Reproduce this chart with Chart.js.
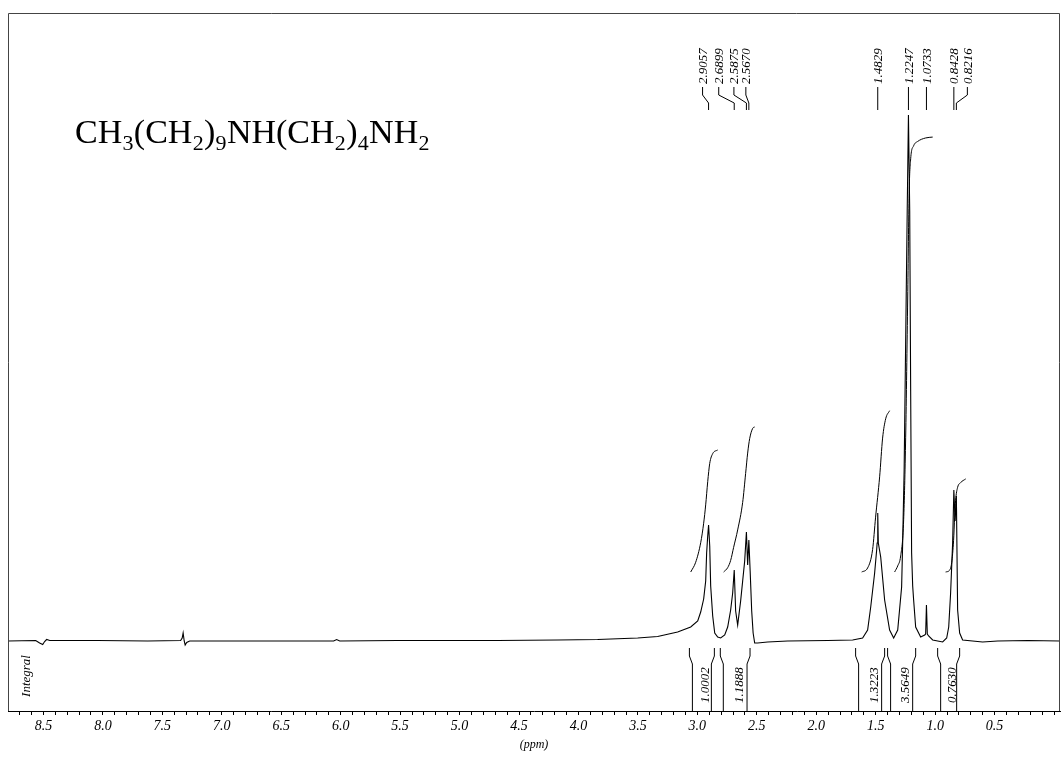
<!DOCTYPE html>
<html>
<head>
<meta charset="utf-8">
<title>1H NMR</title>
<script src="https://cdn.jsdelivr.net/npm/chart.js@4/dist/chart.umd.min.js"></script>
<style>
  html, body { margin: 0; padding: 0; background: #fff; }
  canvas { display: block; }
</style>
</head>
<body>
<canvas id="nmr" width="1061" height="758"></canvas>
<script>
// 1H NMR trace: chemical shift (ppm) and signal intensity (arbitrary units, baseline = 0)
const shiftPpm = [
  8.818, 8.565, 8.532, 8.506, 8.490, 8.473, 8.447, 8.044, 7.623, 7.346,
  7.333, 7.325, 7.316, 7.308, 7.295, 7.270, 6.782, 6.059, 6.034, 6.008,
  5.521, 4.680, 4.175, 3.839, 3.502, 3.334, 3.166, 3.056, 2.997, 2.972,
  2.947, 2.930, 2.922, 2.913, 2.9057, 2.896, 2.888, 2.871, 2.854, 2.829,
  2.804, 2.770, 2.745, 2.720, 2.703, 2.6899, 2.678, 2.661, 2.636, 2.619,
  2.602, 2.5875, 2.577, 2.5670, 2.556, 2.543, 2.531, 2.518, 2.493, 2.409,
  2.241, 1.904, 1.694, 1.610, 1.568, 1.542, 1.509, 1.492, 1.488, 1.4829,
  1.478, 1.458, 1.425, 1.383, 1.349, 1.315, 1.282, 1.273, 1.261, 1.248,
  1.235, 1.2247, 1.214, 1.206, 1.198, 1.189, 1.181, 1.164, 1.122, 1.088,
  1.080, 1.0733, 1.066, 1.055, 1.021, 0.937, 0.903, 0.886, 0.870, 0.853,
  0.8428, 0.832, 0.8216, 0.811, 0.794, 0.769, 0.601, 0.474, 0.222, -0.050
];
const intensity = [
  0, 0.5, -2, -3.5, -0.5, 1.5, 0.5, 0.5, 0, 0.5,
  3, 8, 0, -4, -1.5, 0, 0, 0, 1.5, 0,
  0.5, 0.5, 1, 1.5, 3, 4.5, 9, 14, 20, 29,
  42, 60, 88, 105, 116, 95, 55, 25, 8, 4,
  3, 6, 14, 31, 48, 71, 30, 16, 40, 60,
  80, 109, 76, 101, 70, 30, 8, -2, -2, -1,
  0, 0.5, 1, 3, 11, 34, 68, 91, 98, 128,
  98, 84, 41, 11, 3, 11, 54, 100, 170, 300,
  430, 526, 430, 250, 88, 55, 41, 14, 4, 6,
  7, 36, 7, 5, 1, -1, 3, 14, 48, 98,
  151, 120, 145, 31, 8, 1, -1, 0, 0.5, 0
];

// picked peaks (ppm)
const peakShifts = [2.9057, 2.6899, 2.5875, 2.5670, 1.4829, 1.2247, 1.0733, 0.8428, 0.8216];

// integrated regions: limits (ppm) and relative areas
const integralFrom   = [3.067, 2.807, 1.669, 1.400, 0.979];
const integralTo     = [2.857, 2.557, 1.425, 1.164, 0.794];
const integralValues = [1.0002, 1.1888, 1.3223, 3.5649, 0.7630];

// running-integral traces: shift (ppm) and fraction of the region's area
const int1Ppm  = [3.056, 3.014, 2.972, 2.947, 2.930, 2.913, 2.896, 2.871, 2.829];
const int1Frac = [0, 0.08, 0.24, 0.40, 0.55, 0.74, 0.89, 0.97, 1];
const int2Ppm  = [2.779, 2.745, 2.720, 2.695, 2.661, 2.619, 2.594, 2.577, 2.560, 2.535, 2.518];
const int2Frac = [0, 0.03, 0.08, 0.17, 0.29, 0.48, 0.68, 0.82, 0.92, 0.99, 1];
const int3Ppm  = [1.618, 1.568, 1.526, 1.501, 1.467, 1.442, 1.416, 1.383];
const int3Frac = [0, 0.025, 0.14, 0.34, 0.59, 0.83, 0.95, 1];
const int4Ppm  = [1.341, 1.315, 1.290, 1.265, 1.248, 1.231, 1.219, 1.206, 1.181, 1.147, 1.080, 1.021];
const int4Frac = [0, 0.014, 0.037, 0.12, 0.31, 0.63, 0.87, 0.95, 0.98, 0.99, 0.998, 1];
const int5Ppm  = [0.912, 0.878, 0.861, 0.845, 0.836, 0.828, 0.811, 0.786, 0.743];
const int5Frac = [0, 0.02, 0.10, 0.34, 0.59, 0.77, 0.91, 0.96, 1];

// labelled axis ticks (ppm)
const tickLabels = [8.5, 8.0, 7.5, 7.0, 6.5, 6.0, 5.5, 5.0, 4.5, 4.0, 3.5, 3.0, 2.5, 2.0, 1.5, 1.0, 0.5];

const formulaParts = [
  ['CH', false], ['3', true], ['(CH', false], ['2', true], [')', false], ['9', true],
  ['NH(CH', false], ['2', true], [')', false], ['4', true], ['NH', false], ['2', true]
];

// ---- drawing setup ----
const SERIF = '"Liberation Serif", "Times New Roman", serif';
const INTEGRAL_BASE = 69;   // height of integral traces above the baseline
const INTEGRAL_GAIN = 122;  // trace rise per unit of area
const integralTraces = [
  [int1Ppm, int1Frac], [int2Ppm, int2Frac], [int3Ppm, int3Frac],
  [int4Ppm, int4Frac], [int5Ppm, int5Frac]
];
// horizontal spread of crowded peak labels (px, relative to the peak)
const labelShift = [-6, -15.5, -12.5, -3, 0, 0, 0, 0, 11];

const spectrumData = shiftPpm.map((p, i) => ({ x: p, y: intensity[i] }));
const integralSets = integralTraces.map(([ppm, frac], k) => ({
  data: ppm.map((p, i) => ({ x: p, y: INTEGRAL_BASE + frac[i] * integralValues[k] * INTEGRAL_GAIN })),
  borderColor: '#000', borderWidth: 1, pointRadius: 0,
  cubicInterpolationMode: 'monotone', fill: false
}));

const decorations = {
  id: 'decorations',
  afterDraw(chart) {
    const { ctx, chartArea: ca } = chart;
    const xs = chart.scales.x;
    ctx.save();

    // frame around the plot (top, left, right)
    ctx.strokeStyle = '#444';
    ctx.lineWidth = 1;
    ctx.beginPath();
    ctx.moveTo(ca.left + 0.5, ca.bottom);
    ctx.lineTo(ca.left + 0.5, ca.top + 0.5);
    ctx.lineTo(ca.right - 0.5, ca.top + 0.5);
    ctx.lineTo(ca.right - 0.5, ca.bottom);
    ctx.stroke();

    // molecular formula with subscripts
    ctx.fillStyle = '#000';
    ctx.textBaseline = 'alphabetic';
    ctx.textAlign = 'left';
    let fx = 75;
    formulaParts.forEach(([t, sub]) => {
      ctx.font = sub ? `22px ${SERIF}` : `34px ${SERIF}`;
      const y = sub ? 150 : 143;
      ctx.fillText(t, fx, y);
      fx += ctx.measureText(t).width + 0.3;
    });

    // peak labels with leader lines
    ctx.strokeStyle = '#000';
    ctx.lineWidth = 1;
    ctx.font = `italic 13px ${SERIF}`;
    peakShifts.forEach((p, i) => {
      const px = xs.getPixelForValue(p);
      const lx = px + labelShift[i];
      ctx.beginPath();
      ctx.moveTo(lx, 87);
      ctx.lineTo(lx, 95);
      ctx.lineTo(px, 103);
      ctx.lineTo(px, 110);
      ctx.stroke();
      ctx.save();
      ctx.translate(lx + 1, 84);
      ctx.rotate(-Math.PI / 2);
      ctx.textAlign = 'left';
      ctx.textBaseline = 'middle';
      ctx.fillText(p.toFixed(4), 0, 0);
      ctx.restore();
    });

    // integral region brackets and values
    integralFrom.forEach((a, i) => {
      const xa = xs.getPixelForValue(a);
      const xb = xs.getPixelForValue(integralTo[i]);
      ctx.beginPath();
      ctx.moveTo(xa, 648); ctx.lineTo(xa, 656); ctx.lineTo(xa + 3, 664); ctx.lineTo(xa + 3, ca.bottom);
      ctx.moveTo(xb, 648); ctx.lineTo(xb, 656); ctx.lineTo(xb - 3, 664); ctx.lineTo(xb - 3, ca.bottom);
      ctx.stroke();
      ctx.save();
      ctx.translate((xa + xb) / 2 + 4, 685);
      ctx.rotate(-Math.PI / 2);
      ctx.textAlign = 'center';
      ctx.textBaseline = 'middle';
      ctx.fillText(integralValues[i].toFixed(4), 0, 0);
      ctx.restore();
    });

    // row caption
    ctx.save();
    ctx.translate(27, 676);
    ctx.rotate(-Math.PI / 2);
    ctx.textAlign = 'center';
    ctx.textBaseline = 'middle';
    ctx.fillText('Integral', 0, 0);
    ctx.restore();

    ctx.restore();
  }
};

new Chart(document.getElementById('nmr'), {
  type: 'line',
  data: {
    datasets: [
      { data: spectrumData, borderColor: '#000', borderWidth: 1.1, pointRadius: 0, tension: 0, fill: false },
      ...integralSets
    ]
  },
  options: {
    responsive: false,
    devicePixelRatio: 1,
    animation: false,
    layout: { padding: { left: 8, top: 13, right: 1, bottom: 0 } },
    plugins: { legend: { display: false }, tooltip: { enabled: false } },
    scales: {
      x: {
        type: 'linear',
        reverse: true,
        min: -0.050,
        max: 8.798,
        afterFit(scale) { scale.height = 47; },
        border: { display: true, color: '#000', width: 1 },
        grid: { drawOnChartArea: false, drawTicks: true, tickLength: 4, color: '#000' },
        ticks: {
          stepSize: 0.1,
          includeBounds: false,
          autoSkip: false,
          maxRotation: 0,
          padding: 3,
          color: '#000',
          font: { family: SERIF, size: 14, style: 'italic' },
          callback(v) {
            const hit = tickLabels.find(t => Math.abs(t - v) < 1e-6);
            return hit !== undefined ? hit.toFixed(1) : '';
          }
        },
        title: {
          display: true,
          text: '(ppm)',
          color: '#000',
          font: { family: SERIF, size: 12, style: 'italic' },
          padding: { top: 0, bottom: 6 }
        }
      },
      y: { display: false, min: -70, max: 628 }
    }
  },
  plugins: [decorations]
});
</script>
</body>
</html>
